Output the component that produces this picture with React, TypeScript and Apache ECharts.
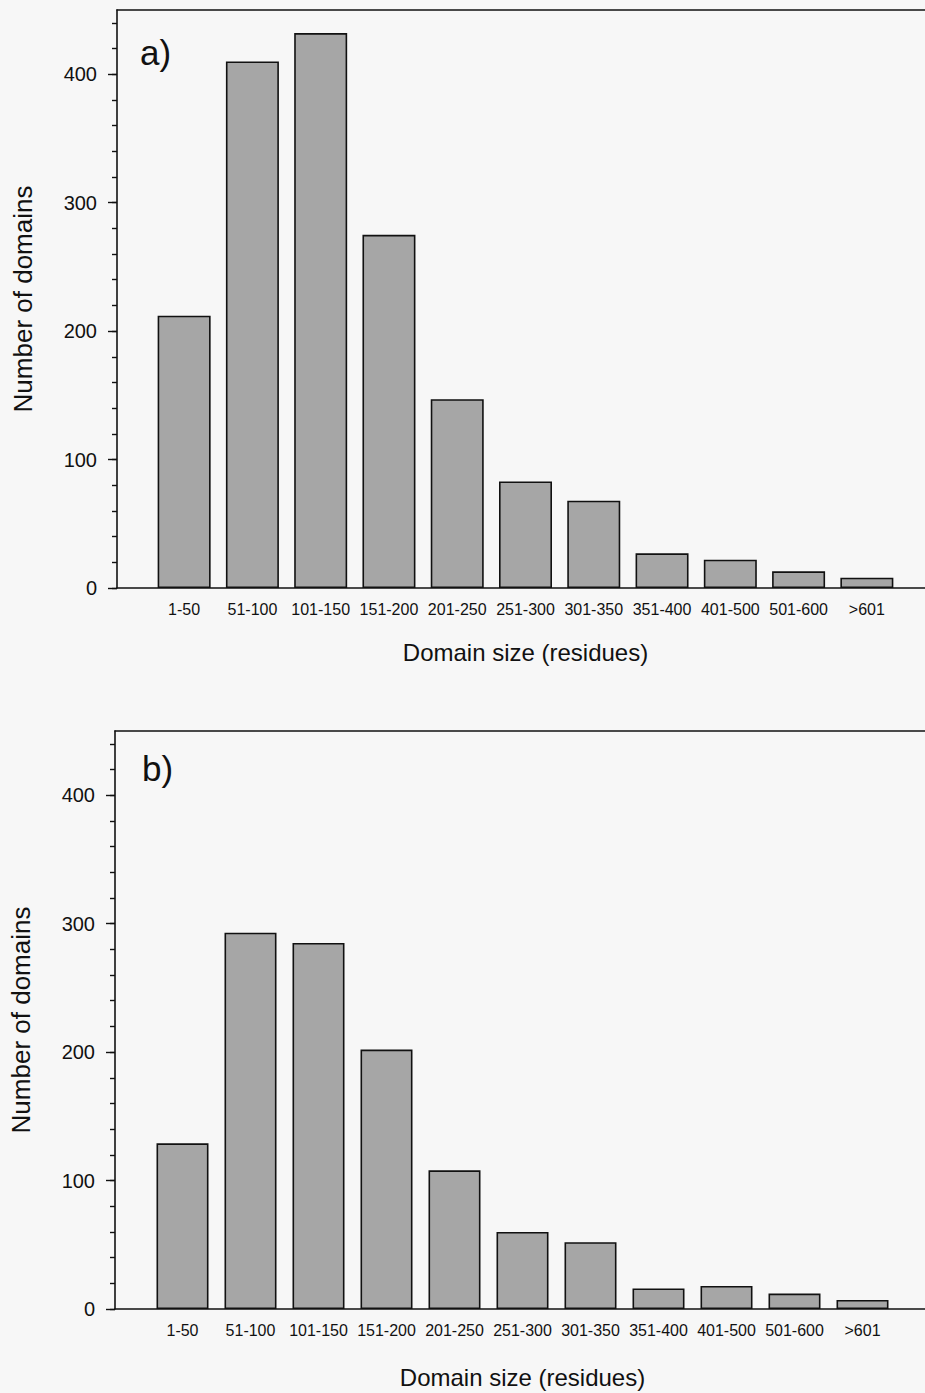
import React, { useEffect, useRef } from "react";
import * as echarts from "echarts";

const categories = ["1-50", "51-100", "101-150", "151-200", "201-250", "251-300", "301-350", "351-400", "401-500", "501-600", ">601"];
const valuesA = [212, 410, 432, 275, 147, 83, 68, 27, 22, 13, 8];
const valuesB = [129, 293, 285, 202, 108, 60, 52, 16, 18, 12, 7];
const majorTicks = [0, 100, 200, 300, 400];
const minorTicks = [0, 20, 40, 60, 80, 100, 120, 140, 160, 180, 200, 220, 240, 260, 280, 300, 320, 340, 360, 380, 400, 420, 440];
const panelLabels = ["a)", "b)"];
const yMax = 450;
const FONT = "Liberation Sans, Arial, Helvetica, sans-serif";

export default function App() {
  const ref = useRef<HTMLDivElement>(null);
  useEffect(() => {
    const chart = echarts.init(ref.current!, null, { renderer: "svg" });
    const panels = [
      { frame: { left: 117, right: 0, top: 10, height: 578 }, bars: { left: 150, right: 24, top: 10, height: 578 }, data: valuesA, barWidth: 53, nameGap: 52 },
      { frame: { left: 115, right: 0, top: 731, height: 578 }, bars: { left: 148.5, right: 28.5, top: 731, height: 578 }, data: valuesB, barWidth: 52, nameGap: 56 },
    ];
    const grid: any[] = [];
    const xAxis: any[] = [];
    const yAxis: any[] = [];
    const series: any[] = [];
    const line = { show: true, onZero: false, lineStyle: { color: "#111", width: 1.6 } };
    panels.forEach((p) => {
      const gf = grid.length;
      grid.push({ ...p.frame, outerBoundsMode: "none", containLabel: false });
      const gb = grid.length;
      grid.push({ ...p.bars, outerBoundsMode: "none", containLabel: false });
      xAxis.push({ gridIndex: gf, type: "value", min: 0, max: 1, position: "bottom", axisLine: line, axisTick: { show: false }, axisLabel: { show: false }, splitLine: { show: false } });
      xAxis.push({ gridIndex: gf, type: "value", min: 0, max: 1, position: "top", axisLine: line, axisTick: { show: false }, axisLabel: { show: false }, splitLine: { show: false } });
      yAxis.push({
        gridIndex: gf, type: "value", min: 0, max: yMax, position: "left",
        axisLine: line,
        axisTick: { show: true, length: 5, customValues: minorTicks, lineStyle: { color: "#111", width: 1.4 } },
        axisLabel: { show: true, customValues: majorTicks, fontSize: 20, color: "#111", fontFamily: FONT, margin: 20 },
        splitLine: { show: false },
        name: "Number of domains", nameLocation: "middle", nameGap: 81,
        nameTextStyle: { fontSize: 26, color: "#111", fontFamily: FONT },
      });
      yAxis.push({
        gridIndex: gf, type: "value", min: 0, max: yMax, position: "left",
        axisLine: { show: false },
        axisTick: { show: true, length: 9, customValues: majorTicks, lineStyle: { color: "#111", width: 1.4 } },
        axisLabel: { show: false }, splitLine: { show: false },
      });
      const xb = xAxis.length;
      xAxis.push({
        gridIndex: gb, type: "category", data: categories,
        axisLine: { show: false }, axisTick: { show: false },
        axisLabel: { fontSize: 16, color: "#111", fontFamily: FONT, margin: 13, interval: 0 },
        name: "Domain size (residues)", nameLocation: "middle", nameGap: p.nameGap,
        nameTextStyle: { fontSize: 24, color: "#111", fontFamily: FONT },
      });
      const yb = yAxis.length;
      yAxis.push({ gridIndex: gb, type: "value", min: 0, max: yMax, show: false, splitLine: { show: false } });
      series.push({
        type: "bar", xAxisIndex: xb, yAxisIndex: yb, data: p.data, barWidth: p.barWidth,
        itemStyle: { color: "#a6a6a6", borderColor: "#111", borderWidth: 1.6 },
      });
    });
    chart.setOption({
      animation: false,
      backgroundColor: "#f7f7f7",
      grid,
      xAxis,
      yAxis,
      series,
      graphic: [
        { type: "text", left: 140, top: 35, style: { text: panelLabels[0], fontSize: 35, fill: "#111", fontFamily: FONT } },
        { type: "text", left: 142, top: 751, style: { text: panelLabels[1], fontSize: 35, fill: "#111", fontFamily: FONT } },
      ],
    });
    return () => chart.dispose();
  }, []);
  return <div ref={ref} style={{ position: "absolute", left: 0, top: 0, width: 925, height: 1393 }} />;
}
